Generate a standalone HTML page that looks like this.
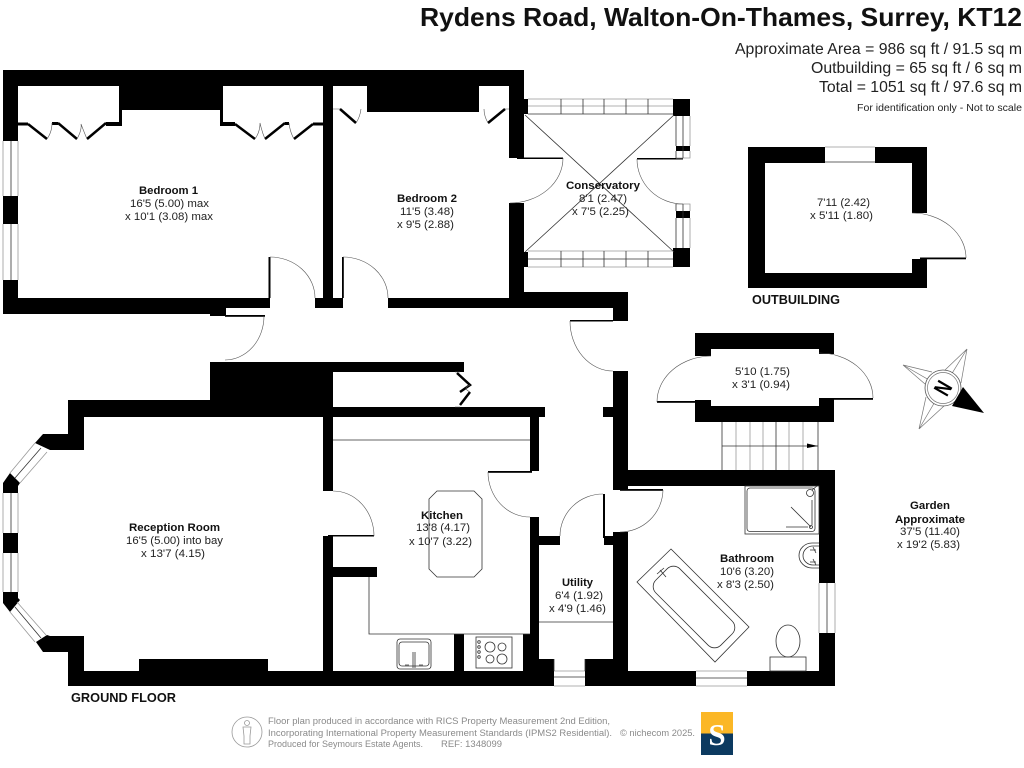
<!DOCTYPE html>
<html lang="en"><head><meta charset="utf-8"><title>Rydens Road floor plan</title>
<style>
html,body{margin:0;padding:0;background:#fff;width:1024px;height:768px;overflow:hidden}
svg{display:block}
text{font-family:"Liberation Sans",sans-serif;fill:#222;font-size:11.4px}
.b{font-weight:bold;fill:#111}
.f{fill:#8a8a8a;font-size:9px}
.l{fill:none;stroke:#333;stroke-width:.8}
.g{fill:none;stroke:#999;stroke-width:.8}
.t{fill:none;stroke:#000;stroke-width:2.5}
.a{fill:none;stroke:#555;stroke-width:.6}
</style></head><body>
<svg width="1024" height="768" viewBox="0 0 1024 768" xmlns="http://www.w3.org/2000/svg">
<rect width="1024" height="768" fill="#fff"/>

<!-- black walls -->
<g fill="#000">
<rect x="3" y="70" width="521" height="16"/>
<rect x="3" y="70" width="15" height="71"/>
<rect x="3" y="196" width="15" height="28"/>
<rect x="3" y="280" width="15" height="34"/>
<rect x="3" y="298" width="207" height="16"/>
<rect x="210" y="298" width="16" height="18"/>
<rect x="226" y="298" width="44" height="10"/>
<rect x="268.500" y="257" width="2" height="41"/>
<rect x="225" y="315" width="40" height="1.800"/>
<rect x="119" y="86" width="104" height="24"/>
<rect x="119" y="110" width="3" height="16"/>
<rect x="220" y="110" width="3" height="16"/>
<rect x="106" y="122" width="16" height="4"/>
<rect x="220" y="122" width="15" height="4"/>
<rect x="18" y="122.500" width="10" height="3"/>
<rect x="313" y="122.500" width="10" height="3"/>
<rect x="52" y="122" width="6" height="3"/>
<rect x="285" y="122" width="4" height="3"/>
<rect x="367" y="86" width="112" height="26"/>
<rect x="323" y="86" width="10" height="222"/>
<rect x="315" y="298" width="28" height="10"/>
<rect x="342" y="257" width="1.800" height="41"/>
<rect x="388" y="298" width="240" height="10"/>
<rect x="509" y="70" width="15" height="88"/>
<rect x="509" y="203" width="15" height="95"/>
<rect x="509" y="292" width="119" height="10"/>
<rect x="613" y="292" width="15" height="29"/>
<rect x="570" y="320" width="43" height="1.500"/>
<rect x="613" y="371" width="15" height="119"/>
<rect x="603" y="407" width="10" height="10"/>
<rect x="613" y="470" width="222" height="16"/>
<rect x="210" y="362" width="123" height="55"/>
<rect x="68" y="400" width="265" height="17"/>
<rect x="68" y="400" width="16" height="50"/>
<polygon points="43,434 68,434 68,450 50,450 35,443"/>
<polygon points="10,473 20,483 18,486 18,493 3,493 3,483"/>
<rect x="3" y="533" width="15" height="20"/>
<polygon points="3,592 18,592 18,598 20,600 10,612 3,603"/>
<polygon points="36,642 47,635 50,636 68,636 68,652 43,652"/>
<rect x="68" y="636" width="16" height="50"/>
<rect x="68" y="671" width="486" height="15"/>
<rect x="585" y="671" width="111" height="15"/>
<rect x="747" y="671" width="88" height="15"/>
<rect x="139" y="659" width="129" height="12"/>
<rect x="333" y="362" width="131" height="10"/>
<rect x="323" y="407" width="222" height="10"/>
<rect x="323" y="417" width="10" height="74"/>
<rect x="323" y="536" width="10" height="135"/>
<rect x="333" y="567" width="44" height="10"/>
<rect x="530" y="417" width="9" height="54"/>
<rect x="488" y="471" width="44" height="1.800"/>
<rect x="530" y="517" width="9" height="154"/>
<rect x="539" y="536" width="21" height="9"/>
<rect x="604" y="536" width="9" height="9"/>
<rect x="603" y="494" width="2" height="44"/>
<rect x="613" y="532" width="15" height="154"/>
<rect x="454" y="634" width="10" height="37"/>
<rect x="523" y="634" width="7" height="37"/>
<rect x="539" y="659" width="15" height="12"/>
<rect x="585" y="659" width="28" height="12"/>
<rect x="819" y="470" width="16" height="113"/>
<rect x="819" y="633" width="16" height="53"/>
<rect x="620" y="489" width="43" height="1.800"/>
<rect x="328" y="535" width="46" height="1.500"/>
<!-- porch -->
<rect x="695" y="333" width="139" height="16"/>
<rect x="695" y="349" width="16" height="7"/>
<rect x="819" y="349" width="15" height="5"/>
<rect x="695" y="400" width="16" height="22"/>
<rect x="819" y="398" width="15" height="24"/>
<rect x="711" y="406" width="108" height="16"/>
<rect x="657" y="401" width="38" height="1.800"/>
<rect x="834" y="398" width="39" height="1.800"/>
<!-- outbuilding -->
<rect x="748" y="147" width="77" height="16"/>
<rect x="875" y="147" width="52" height="16"/>
<rect x="748" y="163" width="17" height="125"/>
<rect x="748" y="273" width="179" height="15"/>
<rect x="912" y="163" width="15" height="50"/>
<rect x="912" y="259" width="15" height="14"/>
<rect x="920" y="257.500" width="46" height="1.800"/>
<!-- conservatory -->
<rect x="524" y="99" width="4" height="15"/>
<rect x="524" y="252" width="4" height="15"/>
<rect x="673" y="99" width="17" height="17"/>
<rect x="673" y="248" width="17" height="19"/>
<rect x="676" y="146" width="14" height="5"/>
<rect x="676" y="211" width="14" height="7"/>
<rect x="517" y="157.500" width="46" height="1.500"/>
<rect x="637" y="158" width="46" height="1.500"/>
</g>

<!-- window lines -->
<g class="g">
<path d="M3 141V196M18 141V196M3 224V280M18 224V280"/>
<path d="M3 493V533M18 493V533M3 553V592M18 553V592"/>
<path d="M35 443L10 473M47 452L20 483M10 612L35 642M17 602L46 635"/>
<path d="M528 99H673M528 106H673M528 251H673M528 267H673"/>
<path d="M690 116V146M690 151V158H676M676 204H690V211M690 218V248"/>
<path d="M825 147H875M554 686H585M696 671H747M696 686H747M819 583V633M835 583V633M554 671H585"/>
</g>
<g class="l">
<path d="M11 141V196M11 224V280M11 493V533M11 553V592"/>
<path d="M41 448L15 478M15 607L41 638"/>
<path d="M528 114H673M528 259H673"/>
<path d="M561 99V114M583 99V114M604 99V114M626 99V114M648 99V114"/>
<path d="M561 251V267M583 251V267M604 251V267M626 251V267M648 251V267"/>
<path d="M676 116V146M676 151V158M683 116V158M676 204V211M676 218V248M683 204V248"/>
<path d="M825 162H875M554 677H585M696 678H747M827 583V633"/>
<path d="M554 659V671M585 659V671"/>
<path d="M525 115L674 252M674 115L525 252"/>
<path d="M333 440H530M539 622H613"/>
<path d="M369 577V634H530"/>
<path d="M437 491H474L482 499V569L474 577H437L429 569V499Z"/>
</g>

<!-- door arcs -->
<g class="a">
<path d="M270 257A45 41 0 0 1 315 298"/>
<path d="M343 257A45 41 0 0 1 388 298"/>
<path d="M264 316A39 44 0 0 1 225 360"/>
<path d="M563 158A53 45 0 0 1 510 203"/>
<path d="M637 159A46 45 0 0 0 683 204"/>
<path d="M570 321A43 50 0 0 0 613 371"/>
<path d="M333 491A41 45 0 0 1 374 536"/>
<path d="M488 472A42 45 0 0 0 530 517"/>
<path d="M560 536A43 42 0 0 1 603 494"/>
<path d="M663 490A43 43 0 0 1 620 532"/>
<path d="M711 356A55 46 0 0 0 657 402"/>
<path d="M819 353A54 45 0 0 1 873 398"/>
<path d="M912 213A54 45 0 0 1 966 258"/>
</g>

<!-- bifold doors -->
<g class="t">
<path d="M28 124L47 139M58 123L77 139M87 139L106 123"/>
<path d="M235 124L255 139M265 139L285 123M294 139L313 124"/>
<path d="M340 109L356 123M488 123L505 109"/>
<path d="M457 373L470 385L460 392M470 392L460 405"/>
</g>
<g class="a">
<path d="M333 109H340M505 109H509M455 372H460M455 407H460"/>
<path d="M47 139Q52 132 52 123M77 139Q82 130 81 124Q84 132 87 139"/>
<path d="M255 139Q260 132 260 123Q262 132 265 139M289 123Q290 132 294 139"/>
<path d="M356 123Q360 117 361 109M488 123Q484 116 484 109"/>
<path d="M470 385Q462 388 470 392"/>
</g>

<!-- stairs -->
<g class="g"><path d="M736 422V470M750 422V470M763 422V470M789 422V470M803 422V470"/></g>
<g class="l"><path d="M722 422V470M818 422V470M776 422V470M722 446H818"/></g>
<polygon points="807,443.500 818,446 807,448" fill="#000"/>

<!-- kitchen fittings -->
<g class="l">
<rect x="397" y="639" width="34" height="30" rx="3"/>
<rect x="399" y="642" width="30" height="24" rx="3"/>
<path d="M413 652V668M415 652V668M405 665H409M419 665H423"/>
<rect x="476" y="637" width="36" height="31"/>
<circle cx="490" cy="647" r="5"/><circle cx="502" cy="647" r="4"/><circle cx="490" cy="659" r="4"/><circle cx="502" cy="659" r="5"/>
<circle cx="479" cy="642" r="1.300"/><circle cx="479" cy="647" r="1.300"/><circle cx="479" cy="652" r="1.300"/><circle cx="479" cy="657" r="1.300"/>
</g>

<!-- bathroom fittings -->
<g class="l">
<rect x="745" y="486" width="74" height="48"/>
<rect x="747" y="488" width="68" height="43.500" rx="3"/>
<circle cx="810" cy="493" r="3.500"/>
<path d="M791 507L811 527M786 527H808M812 500V525M812 490L817 486"/>
<circle cx="811" cy="527" r="1.500"/>
<path d="M819 543H812A13 12.500 0 0 0 812 568H819"/>
<path d="M819 546H813A10 9.500 0 0 0 813 565H819"/>
<path d="M810 550H816M810 562H816M813 547L816 553M813 559L816 565"/>
<polygon points="671,549 749,627 715,662 637,582"/>
<rect x="648" y="590" width="92" height="34" rx="9" transform="rotate(45 694 607)"/>
<path d="M660 570L666 577M657 574L664 568"/>
<ellipse cx="788" cy="641" rx="12" ry="16"/>
<rect x="770" y="657" width="36" height="14"/>
</g>

<!-- compass -->
<g fill="none" stroke="#777" stroke-width=".7">
<path d="M903 365L932 372M903 365L925 384M903 365L943 388"/>
<path d="M967 349L945 370M967 349L961 383M967 349L943 388"/>
<path d="M919 429L926 397M919 429L944 406M919 429L943 388"/>
</g>
<circle cx="943" cy="388" r="18" fill="#fff" stroke="#555" stroke-width=".8"/>
<circle cx="943" cy="388" r="15.500" fill="#fff" stroke="#777" stroke-width=".7"/>
<polygon points="963,387 984,413 952,406" fill="#000"/>
<text transform="translate(943 388) rotate(-60) scale(.75 1)" x="-8.500" y="8" style="font-size:23px;font-weight:bold;fill:#000">N</text>

<!-- heading -->
<text x="420" y="26" textLength="602" lengthAdjust="spacingAndGlyphs" style="font-size:26px;font-weight:bold;fill:#111">Rydens Road, Walton-On-Thames, Surrey, KT12</text>
<text x="735" y="54" textLength="287" lengthAdjust="spacingAndGlyphs" style="font-size:15.500px">Approximate Area = 986 sq ft / 91.5 sq m</text>
<text x="811" y="73" textLength="211" lengthAdjust="spacingAndGlyphs" style="font-size:15.500px">Outbuilding = 65 sq ft / 6 sq m</text>
<text x="819" y="92" textLength="203" lengthAdjust="spacingAndGlyphs" style="font-size:15.500px">Total = 1051 sq ft / 97.6 sq m</text>
<text x="857" y="111" textLength="165" lengthAdjust="spacingAndGlyphs" style="font-size:10.300px">For identification only - Not to scale</text>

<!-- room labels -->
<text class="b" x="139" y="194" textLength="59" lengthAdjust="spacingAndGlyphs">Bedroom 1</text>
<text x="130" y="207" textLength="79" lengthAdjust="spacingAndGlyphs">16'5 (5.00) max</text>
<text x="125" y="220" textLength="88" lengthAdjust="spacingAndGlyphs">x 10'1 (3.08) max</text>

<text class="b" x="397" y="202" textLength="60" lengthAdjust="spacingAndGlyphs">Bedroom 2</text>
<text x="400" y="215" textLength="54" lengthAdjust="spacingAndGlyphs">11'5 (3.48)</text>
<text x="397" y="228" textLength="57" lengthAdjust="spacingAndGlyphs">x 9'5 (2.88)</text>

<text class="b" x="566" y="189" textLength="74" lengthAdjust="spacingAndGlyphs">Conservatory</text>
<text x="579" y="202" textLength="48" lengthAdjust="spacingAndGlyphs">8'1 (2.47)</text>
<text x="572" y="215" textLength="57" lengthAdjust="spacingAndGlyphs">x 7'5 (2.25)</text>

<text class="b" x="129" y="531" textLength="91" lengthAdjust="spacingAndGlyphs">Reception Room</text>
<text x="126" y="544" textLength="97" lengthAdjust="spacingAndGlyphs">16'5 (5.00) into bay</text>
<text x="141" y="557" textLength="64" lengthAdjust="spacingAndGlyphs">x 13'7 (4.15)</text>

<text class="b" x="421" y="519" textLength="42" lengthAdjust="spacingAndGlyphs">Kitchen</text>
<text x="416" y="531" textLength="54" lengthAdjust="spacingAndGlyphs">13'8 (4.17)</text>
<text x="409" y="545" textLength="63" lengthAdjust="spacingAndGlyphs">x 10'7 (3.22)</text>

<text class="b" x="562" y="586" textLength="31" lengthAdjust="spacingAndGlyphs">Utility</text>
<text x="555" y="599" textLength="48" lengthAdjust="spacingAndGlyphs">6'4 (1.92)</text>
<text x="549" y="612" textLength="57" lengthAdjust="spacingAndGlyphs">x 4'9 (1.46)</text>

<text class="b" x="720" y="562" textLength="54" lengthAdjust="spacingAndGlyphs">Bathroom</text>
<text x="720" y="575" textLength="54" lengthAdjust="spacingAndGlyphs">10'6 (3.20)</text>
<text x="717" y="588" textLength="57" lengthAdjust="spacingAndGlyphs">x 8'3 (2.50)</text>

<text x="735" y="375" textLength="55" lengthAdjust="spacingAndGlyphs">5'10 (1.75)</text>
<text x="732" y="388" textLength="58" lengthAdjust="spacingAndGlyphs">x 3'1 (0.94)</text>

<text class="b" x="910" y="509" textLength="40" lengthAdjust="spacingAndGlyphs">Garden</text>
<text class="b" x="895" y="523" textLength="70" lengthAdjust="spacingAndGlyphs">Approximate</text>
<text x="900" y="535" textLength="60" lengthAdjust="spacingAndGlyphs">37'5 (11.40)</text>
<text x="897" y="548" textLength="63" lengthAdjust="spacingAndGlyphs">x 19'2 (5.83)</text>

<text x="817" y="206" textLength="53" lengthAdjust="spacingAndGlyphs">7'11 (2.42)</text>
<text x="810" y="219" textLength="63" lengthAdjust="spacingAndGlyphs">x 5'11 (1.80)</text>

<text class="b" x="752" y="304" textLength="88" lengthAdjust="spacingAndGlyphs" style="font-size:12.500px">OUTBUILDING</text>
<text class="b" x="71" y="702" textLength="105" lengthAdjust="spacingAndGlyphs" style="font-size:12.500px">GROUND FLOOR</text>

<!-- footer -->
<circle cx="247" cy="732" r="15" fill="none" stroke="#999" stroke-width=".8"/>
<circle cx="247" cy="723" r="2.500" fill="none" stroke="#999" stroke-width=".8"/>
<path d="M243 727H251L250 736V744H244V736Z" fill="none" stroke="#999" stroke-width=".8"/>
<text class="f" x="268" y="724" textLength="342" lengthAdjust="spacingAndGlyphs">Floor plan produced in accordance with RICS Property Measurement 2nd Edition,</text>
<text class="f" x="268" y="736" textLength="344" lengthAdjust="spacingAndGlyphs">Incorporating International Property Measurement Standards (IPMS2 Residential).</text>
<text class="f" x="620" y="736" textLength="75" lengthAdjust="spacingAndGlyphs">© nichecom 2025.</text>
<text class="f" x="268" y="747" textLength="155" lengthAdjust="spacingAndGlyphs">Produced for Seymours Estate Agents.</text>
<text class="f" x="441" y="747" textLength="61" lengthAdjust="spacingAndGlyphs">REF: 1348099</text>
<rect x="701" y="712" width="32" height="22" fill="#fbb726"/>
<rect x="701" y="733.500" width="32" height="21.500" fill="#0c3a60"/>
<text x="717" y="745" text-anchor="middle" style="font-family:'Liberation Serif',serif;font-size:31px;font-weight:bold;fill:#fff">S</text>
</svg>
</body></html>
